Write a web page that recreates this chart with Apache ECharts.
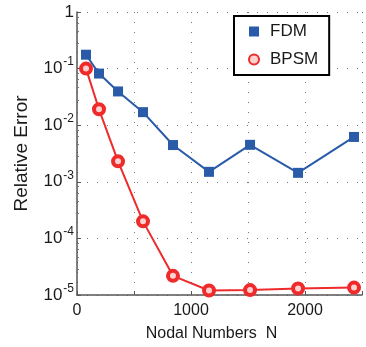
<!DOCTYPE html>
<html>
<head>
<meta charset="utf-8">
<script src="https://cdn.jsdelivr.net/npm/echarts@6/dist/echarts.min.js"></script>
<style>
  html, body { margin: 0; padding: 0; background: #fff; }
  #chart { width: 366px; height: 347px; }
</style>
</head>
<body>
<div id="chart"></div>
<script>
// nodal numbers N
var nodes = [79, 193, 360, 579, 842, 1158, 1518, 1939, 2430];
// relative errors
var fdmError = [0.176, 0.0817, 0.0395, 0.017, 0.00446, 0.0015, 0.0045, 0.00144, 0.0062];
var bpsmError = [0.1, 0.0191, 0.0023, 0.0002, 0.0000218, 0.000012, 0.0000122, 0.000013, 0.0000135];
var seriesNames = ['FDM', 'BPSM'];

function pairs(xs, ys) {
    return xs.map(function (x, i) { return [x, ys[i]]; });
}

var chart = echarts.init(document.getElementById('chart'));

var font = '"Liberation Sans", Arial, sans-serif';
var ink = '#1a1a1a';

chart.setOption({
    animation: false,
    textStyle: { fontFamily: font },

    // plot area
    grid: {
        left: 77,
        right: 4,
        top: 12,
        bottom: 50
    },

    legend: {
        orient: 'vertical',
        left: 234,
        top: 16,
        data: [
            { name: seriesNames[0], icon: 'rect' },
            { name: seriesNames[1], icon: 'circle' }
        ],
        backgroundColor: '#fff',
        borderColor: '#000',
        borderWidth: 2,
        padding: [7, 11, 7, 14],
        itemGap: 11,
        itemWidth: 10,
        itemHeight: 10,
        textStyle: { fontSize: 17, color: ink, fontFamily: font, padding: [0, 0, 0, 6] }
    },

    xAxis: {
        type: 'value',
        min: 0,
        max: 2500,
        interval: 500,
        name: 'Nodal Numbers  N',
        nameLocation: 'middle',
        nameGap: 31,
        nameTextStyle: { fontSize: 16, color: ink, padding: [0, 16, 0, 0] },
        axisLine: { lineStyle: { color: '#555', width: 1.5 } },
        axisTick: { inside: true, length: 4, lineStyle: { color: '#555' } },
        axisLabel: {
            fontSize: 16,
            color: ink,
            margin: 8,
            formatter: function (v) { return v % 1000 === 0 ? String(v) : ''; }
        },
        splitLine: { show: true, lineStyle: { color: '#777', type: [1, 9], width: 1 } }
    },

    yAxis: {
        type: 'log',
        logBase: 10,
        min: 1e-5,
        max: 1,
        name: 'Relative Error',
        nameLocation: 'middle',
        nameGap: 46,
        nameTextStyle: { fontSize: 19, color: ink },
        axisLine: { show: true, lineStyle: { color: '#555', width: 1.5 } },
        axisTick: { inside: true, length: 4, lineStyle: { color: '#555' } },
        minorTick: { show: true, splitNumber: 5, length: 2, lineStyle: { color: '#777' } },
        axisLabel: {
            color: ink,
            margin: 3,
            formatter: function (v) {
                var e = Math.round(Math.log10(v));
                if (e === 0) return '{b|1}';
                return '{b|10}{s|' + e + '}';
            },
            rich: {
                b: { fontSize: 17, color: ink, fontFamily: font },
                s: { fontSize: 12, color: ink, fontFamily: font, padding: [0, 0, 13, 1] }
            }
        },
        splitLine: { show: true, lineStyle: { color: '#777', type: [1, 9], width: 1 } }
    },

    series: [
        {
            name: 'FDM',
            type: 'line',
            data: pairs(nodes, fdmError),
            symbol: 'rect',
            symbolSize: 10,
            lineStyle: { color: '#2a5ba8', width: 2 },
            itemStyle: { color: '#2a5ba8' }
        },
        {
            name: 'BPSM',
            type: 'line',
            data: pairs(nodes, bpsmError),
            symbol: 'circle',
            symbolSize: 10,
            lineStyle: { color: '#ee2a2a', width: 2 },
            itemStyle: { color: '#ffd0d0', borderColor: '#ee2a2a', borderWidth: 4 }
        }
    ]
});
</script>
</body>
</html>
